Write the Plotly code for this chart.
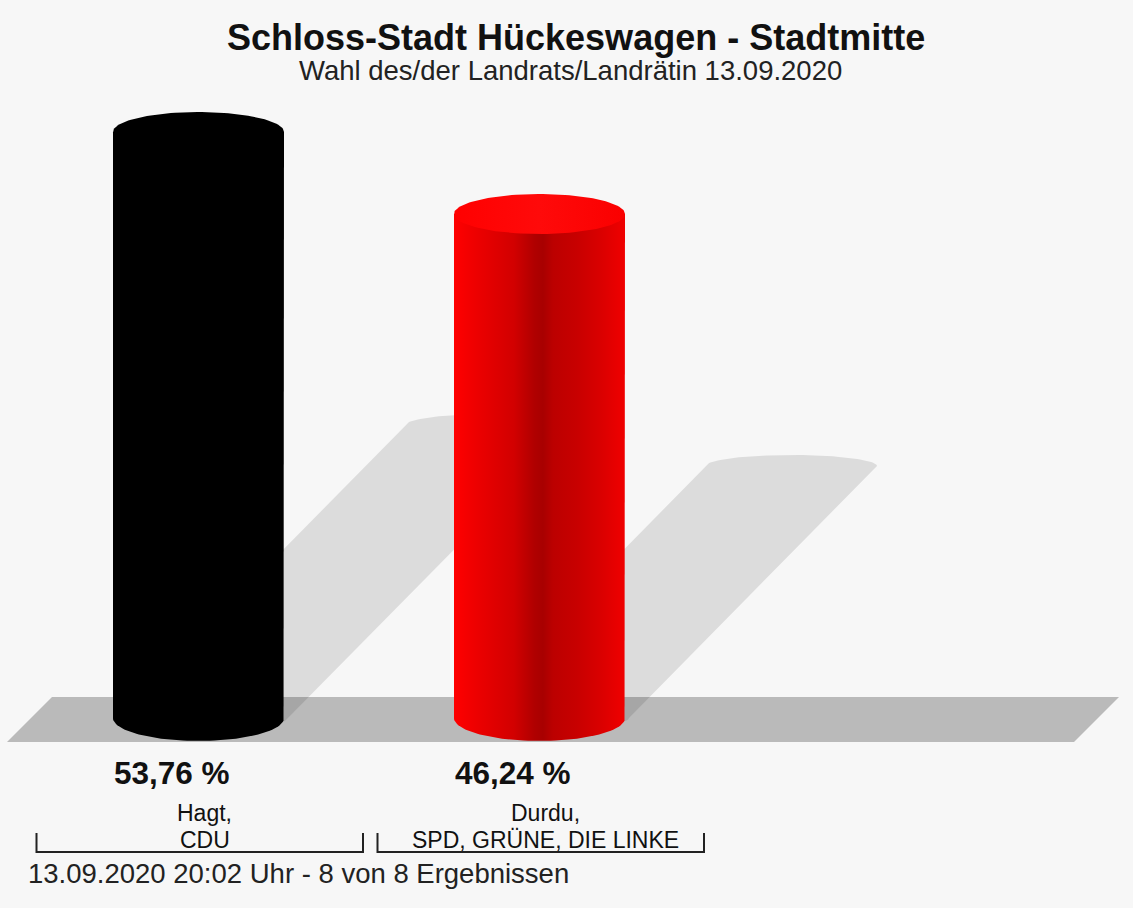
import numpy as np
import plotly.graph_objects as go

# ---------------- data ----------------
candidates = ["Hagt,", "Durdu,"]
parties = ["CDU", "SPD, GRÜNE, DIE LINKE"]
shares = [53.76, 46.24]
share_labels = ["53,76 %", "46,24 %"]
title_text = "Schloss-Stadt Hückeswagen - Stadtmitte"
subtitle_text = "Wahl des/der Landrats/Landrätin 13.09.2020"
footer_text = "13.09.2020 20:02 Uhr - 8 von 8 Ergebnissen"

# ---------------- styles ----------------
BG = "#f7f7f7"
FLOOR = "#bababa"
SHADOW = "rgba(0,0,0,0.105)"
FONT = "Liberation Sans, Arial, Helvetica, sans-serif"
body_scales = [
    [[0, "#000000"], [1, "#000000"]],
    [[0.0, "#ff0000"], [0.12, "#ee0000"], [0.35, "#d20000"], [0.47, "#b00000"],
     [0.52, "#a80000"], [0.58, "#bc0000"], [0.72, "#c80000"], [0.86, "#da0000"],
     [1.0, "#f00000"]],
]
cap_scales = [
    [[0, "#000000"], [1, "#000000"]],
    [[0, "#ff0000"], [0.5, "#ff0a0a"], [1, "#fa0000"]],
]

# ---------------- geometry (pixel-like layout) ----------------
W, H = 1133, 908
BASE_PX = 718          # pixel row of the cylinder base centre
PX_PER_PCT = 10.9      # vertical scale: pixels per percentage point
FIRST_CX = 198.5
SPACING = 341
RADIUS = 85.5
RY_TOP = 20 / PX_PER_PCT
RY_BOT = 23 / PX_PER_PCT
RY_SH = 11 / PX_PER_PCT
SH_DX = 4              # small horizontal offset of the shadow foot


def yv(p):
    """pixel row -> y axis value"""
    return (BASE_PX - p) / PX_PER_PCT


fig = go.Figure()

t_half = np.linspace(0, np.pi, 60)
t_full = np.linspace(0, 2 * np.pi, 120)
centers = [FIRST_CX + i * SPACING for i in range(len(shares))]

# shadows first (behind every cylinder)
for cx, v in zip(centers, shares):
    c0 = cx + SH_DX
    L, R = c0 - RADIUS, c0 + RADIUS
    sy = 0.5 * v
    sx = sy * PX_PER_PCT - SH_DX
    xs = [L, L + sx]
    ys = [0, sy]
    tt = t_half[::-1]
    xs += list(c0 + sx + RADIUS * np.cos(tt))
    ys += list(sy + RY_SH * np.sin(tt))
    xs += [R + sx, R]
    ys += [sy, 0]
    xs += list(c0 + RADIUS * np.cos(t_half))
    ys += list(-RY_SH * np.sin(t_half))
    fig.add_trace(go.Scatter(x=xs, y=ys, mode="lines", fill="toself",
                             fillcolor=SHADOW, line=dict(width=0),
                             hoverinfo="skip", showlegend=False))

# cylinders
for i, (cx, v) in enumerate(zip(centers, shares)):
    L, R = cx - RADIUS, cx + RADIUS
    xs = [L, L, R, R] + list(cx + RADIUS * np.cos(t_half))
    ys = [0, v, v, 0] + list(-RY_BOT * np.sin(t_half))
    fig.add_trace(go.Scatter(
        x=xs, y=ys, mode="lines", fill="toself", line=dict(width=0),
        fillgradient=dict(type="horizontal", colorscale=body_scales[i], start=L, stop=R),
        hoverinfo="skip", showlegend=False))
    fig.add_trace(go.Scatter(
        x=list(cx + RADIUS * np.cos(t_full)), y=list(v + RY_TOP * np.sin(t_full)),
        mode="lines", fill="toself", line=dict(width=0),
        fillgradient=dict(type="horizontal", colorscale=cap_scales[i], start=L, stop=R),
        hoverinfo="skip", showlegend=False))

shapes = []
# floor slab
shapes.append(dict(
    type="path", xref="x", yref="y", layer="below",
    path=f"M 7,{yv(742)} L 52,{yv(697)} L 1119,{yv(697)} L 1074,{yv(742)} Z",
    fillcolor=FLOOR, line=dict(width=0)))

annotations = [
    dict(x=W / 2 + 9, y=yv(37), text=f"<b>{title_text}</b>", showarrow=False,
         xanchor="center", yanchor="middle", font=dict(size=36, color="#111", family=FONT)),
    dict(x=W / 2 + 4, y=yv(70), text=subtitle_text, showarrow=False,
         xanchor="center", yanchor="middle", font=dict(size=27.5, color="#222", family=FONT)),
    dict(x=26, y=yv(873), text=footer_text, showarrow=False,
         xanchor="left", yanchor="middle", font=dict(size=27.5, color="#222", family=FONT)),
]

for cx, cand, party, lab in zip(centers, candidates, parties, share_labels):
    annotations.append(dict(x=cx - RADIUS - 1, y=yv(773), text=f"<b>{lab}</b>", showarrow=False,
                            xanchor="left", yanchor="middle",
                            font=dict(size=31.5, color="#111", family=FONT)))
    annotations.append(dict(x=cx + 6, y=yv(813), text=cand, showarrow=False,
                            xanchor="center", yanchor="middle",
                            font=dict(size=23, color="#111", family=FONT)))
    annotations.append(dict(x=cx + 6, y=yv(840), text=party, showarrow=False,
                            xanchor="center", yanchor="middle",
                            font=dict(size=23, color="#111", family=FONT)))
    bl, br = cx - 162, cx + 164.5
    path = f"M {bl},{yv(833)} L {bl},{yv(852)} L {br},{yv(852)} L {br},{yv(833)}"
    shapes.append(dict(type="path", xref="x", yref="y", path=path,
                       line=dict(color="#222", width=2)))

fig.update_layout(
    width=W, height=H,
    margin=dict(l=0, r=0, t=0, b=0),
    paper_bgcolor=BG, plot_bgcolor=BG,
    xaxis=dict(range=[0, W], visible=False, fixedrange=True),
    yaxis=dict(range=[yv(H), yv(0)], visible=False, fixedrange=True),
    shapes=shapes, annotations=annotations,
    showlegend=False, hovermode=False,
)

fig.write_html(
    "out.html",
    config={"displayModeBar": False},
    post_script="document.body.style.margin='0';document.body.style.overflow='hidden';",
)
